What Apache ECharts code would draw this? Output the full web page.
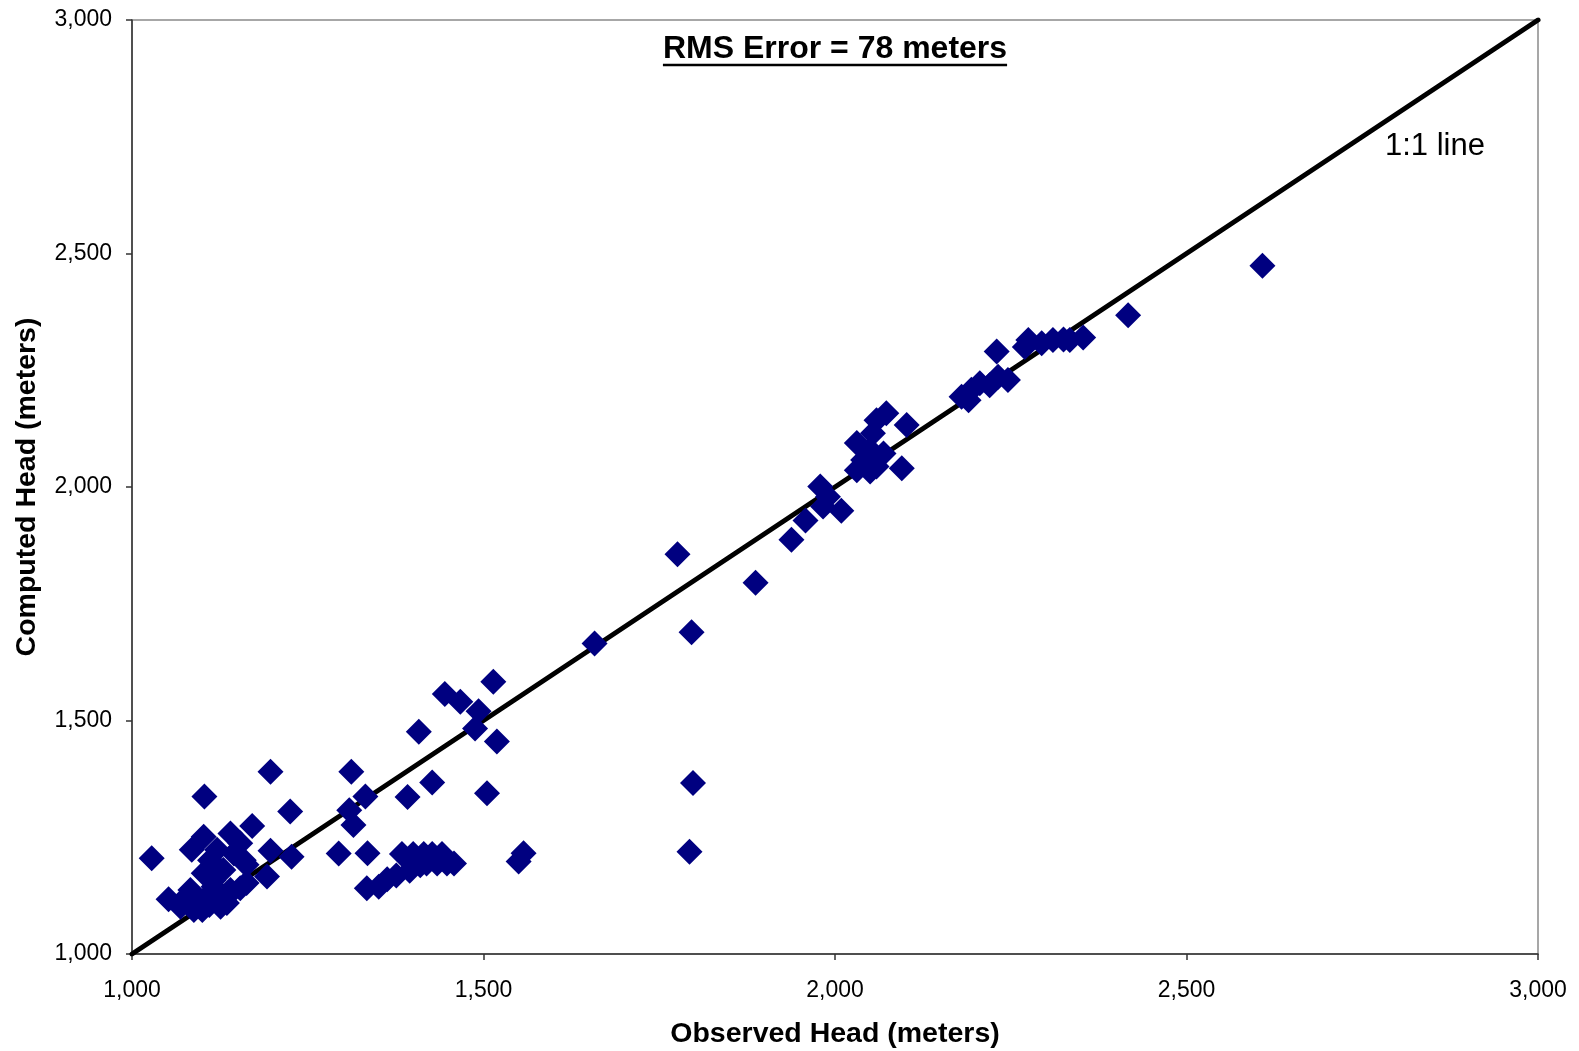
<!DOCTYPE html>
<html>
<head>
<meta charset="utf-8">
<title>Observed vs Computed Head</title>
<script src="https://cdn.jsdelivr.net/npm/echarts@6/dist/echarts.min.js"></script>
<style>
  html, body { margin: 0; padding: 0; background: #ffffff; }
  #chart { width: 1579px; height: 1051px; }
</style>
</head>
<body>
<div id="chart"></div>
<script>
// Observed head (m) at each well
const observedHead = [
  1028, 1052, 1069, 1078, 1083, 1085, 1088, 1094, 1097, 1100, 1102, 1102, 1103, 1107,
  1110, 1111, 1116, 1116, 1116, 1121, 1126, 1130, 1135, 1135, 1140, 1140, 1145, 1154,
  1154, 1159, 1163, 1163, 1171, 1192, 1197, 1197, 1225, 1227,
  1294, 1309, 1312, 1315, 1332, 1335, 1334, 1351, 1363, 1376, 1384, 1392, 1395, 1400,
  1400, 1408, 1410, 1415, 1419, 1427, 1427, 1434, 1441, 1448, 1458, 1445, 1467, 1488,
  1493, 1505, 1514, 1519, 1550, 1557, 1658, 1776, 1793, 1796, 1798, 1887, 1938, 1958,
  1979, 1990, 1983, 2009,
  2031, 2031, 2040, 2045, 2050, 2050, 2054, 2059, 2059, 2069, 2073, 2095, 2102,
  2180, 2190, 2194, 2206, 2220, 2232, 2246, 2230, 2270, 2275, 2294, 2310, 2325, 2334,
  2353, 2417, 2608
];
// Computed head (m) from the model at the same wells
const computedHead = [
  1205, 1117, 1101, 1123, 1137, 1223, 1094, 1115, 1109, 1094, 1173, 1251, 1337, 1123,
  1105, 1201, 1144, 1158, 1194, 1223, 1101, 1180, 1123, 1109, 1137, 1258, 1215, 1237,
  1141, 1201, 1152, 1191, 1274, 1166, 1390, 1221, 1305, 1208,
  1215, 1308, 1390, 1276, 1337, 1216, 1141, 1144, 1160, 1168, 1214, 1336, 1178, 1214,
  1194, 1476, 1190, 1214, 1194, 1214, 1367, 1194, 1214, 1194, 1194, 1557, 1540, 1483,
  1520, 1344, 1583, 1455, 1198, 1216, 1665, 1856, 1219, 1689, 1366, 1795, 1887, 1928,
  2001, 1979, 1958, 1949,
  2036, 2094, 2058, 2045, 2033, 2079, 2115, 2044, 2143, 2072, 2158, 2040, 2133,
  2193, 2186, 2208, 2222, 2218, 2236, 2229, 2290, 2300, 2315, 2308, 2315, 2316, 2315,
  2320, 2368, 2474
];
// Reference 1:1 line end points
const oneToOne = [1000, 3000];
const axisRange = { min: 1000, max: 3000, step: 500 };

const titleText = 'RMS Error = 78 meters';
const lineLabel = '1:1 line';
const xName = 'Observed Head (meters)';
const yName = 'Computed Head (meters)';

const FONT = '"Liberation Sans", Arial, Helvetica, sans-serif';

const points = observedHead.map((x, i) => [x, computedHead[i]]);
const refLine = oneToOne.map(v => [v, v]);

const fmt = v => v.toLocaleString('en-US');

// width of the heading, used to size its underline
const ctx = document.createElement('canvas').getContext('2d');
ctx.font = 'bold 32px ' + FONT;
const titleWidth = ctx.measureText(titleText).width;

const gridLeft = 132, gridRight = 41, gridTop = 20, gridBottom = 97;
const plotCenterX = gridLeft + (1579 - gridLeft - gridRight) / 2;

const chart = echarts.init(document.getElementById('chart'), null, { renderer: 'canvas' });

const axisCommon = {
  type: 'value',
  min: axisRange.min,
  max: axisRange.max,
  interval: axisRange.step,
  splitLine: { show: false },
  axisLine: { show: true, lineStyle: { color: '#333333', width: 1.5 } },
  axisTick: { show: true, inside: false, length: 6, lineStyle: { color: '#333333', width: 1.5 } },
  axisLabel: {
    color: '#000000',
    fontFamily: FONT,
    fontSize: 23,
    formatter: fmt
  },
  nameLocation: 'middle',
  nameTextStyle: { color: '#000000', fontFamily: FONT, fontSize: 28.5, fontWeight: 'bold' }
};

chart.setOption({
  animation: false,
  backgroundColor: '#ffffff',
  grid: {
    left: gridLeft, right: gridRight, top: gridTop, bottom: gridBottom,
    containLabel: false,
    outerBoundsMode: 'none',
    show: true, borderColor: '#8a8a8a', borderWidth: 1.5, backgroundColor: 'transparent'
  },
  xAxis: Object.assign({}, axisCommon, {
    name: xName,
    nameGap: 66,
    axisLabel: Object.assign({}, axisCommon.axisLabel, { margin: 25 })
  }),
  yAxis: Object.assign({}, axisCommon, {
    name: yName,
    nameGap: 90,
    nameRotate: 90,
    axisLabel: Object.assign({}, axisCommon.axisLabel, { margin: 20 })
  }),
  series: [
    {
      name: '1:1',
      type: 'line',
      data: refLine,
      symbol: 'none',
      lineStyle: { color: '#000000', width: 5, cap: 'round' },
      z: 1,
      silent: true
    },
    {
      name: 'Head',
      type: 'scatter',
      data: points,
      symbol: 'diamond',
      symbolSize: 26,
      itemStyle: { color: '#000080', opacity: 1 },
      z: 2
    }
  ],
  graphic: [
    {
      type: 'text',
      x: plotCenterX,
      y: 49,
      style: {
        text: titleText,
        font: 'bold 32px ' + FONT,
        fill: '#000000',
        textAlign: 'center',
        textVerticalAlign: 'middle'
      }
    },
    {
      type: 'line',
      shape: {
        x1: plotCenterX - titleWidth / 2, y1: 65,
        x2: plotCenterX + titleWidth / 2, y2: 65
      },
      style: { stroke: '#000000', lineWidth: 2.5 }
    },
    {
      type: 'text',
      x: 1385,
      y: 146,
      style: {
        text: lineLabel,
        font: '31px ' + FONT,
        fill: '#000000',
        textAlign: 'left',
        textVerticalAlign: 'middle'
      }
    }
  ]
});
</script>
</body>
</html>
